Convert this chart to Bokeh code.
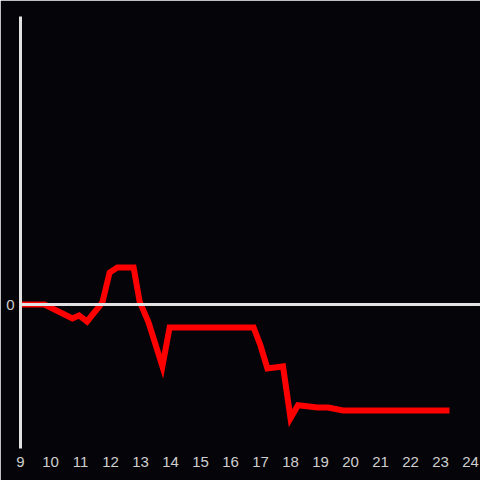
from bokeh.plotting import figure
from bokeh.models import Range1d, FixedTicker, Span, LinearAxis
from bokeh.embed import file_html
from bokeh.resources import INLINE

# Data (hour of day, relative value)
hours = [9.0, 9.8, 10.73, 10.95, 11.22, 11.73, 11.97, 12.23, 12.77, 12.97,
         13.27, 13.73, 13.97, 16.77, 17.0, 17.23, 17.75, 18.0, 18.25, 18.9,
         19.25, 19.75, 23.3]
values = [0.0, 0.0, -0.097, -0.076, -0.118, 0.014, 0.222, 0.257, 0.257, 0.021,
          -0.125, -0.43, -0.16, -0.16, -0.285, -0.444, -0.43, -0.79, -0.70,
          -0.715, -0.715, -0.736, -0.736]
x_ticks = list(range(9, 25))
y_ticks = [0]

BG = "#050408"
AXIS = "#e2e2e2"
LABEL = "#cfcfcf"

p = figure(width=480, height=480, output_backend="svg", toolbar_location=None,
           x_range=Range1d(9, 24.333), y_range=Range1d(-1, 2),
           background_fill_color=BG, border_fill_color=BG,
           min_border_left=20, min_border_right=0, min_border_top=16,
           min_border_bottom=32, x_axis_location=None, y_axis_location=None)
p.outline_line_color = BG
p.outline_line_width = 2
p.grid.visible = False

zero = Span(location=0, dimension="width", line_color=AXIS, line_width=3)
p.add_layout(zero)

p.line(hours, values, line_color="#ff0000", line_width=6, line_join="miter")

xa = LinearAxis(ticker=FixedTicker(ticks=x_ticks))
xa.axis_line_color = None
xa.major_tick_line_color = None
xa.minor_tick_line_color = None
xa.major_label_text_color = LABEL
xa.major_label_text_font = "Liberation Sans"
xa.major_label_text_font_size = "15px"
xa.major_label_standoff = 2
p.add_layout(xa, "below")

ya = LinearAxis(ticker=FixedTicker(ticks=y_ticks))
ya.axis_line_color = AXIS
ya.axis_line_width = 3
ya.major_tick_line_color = None
ya.minor_tick_line_color = None
ya.major_label_text_color = LABEL
ya.major_label_text_font = "Liberation Sans"
ya.major_label_text_font_size = "15px"
ya.major_label_standoff = 0
p.add_layout(ya, "left")

open("out.html", "w").write(file_html(p, INLINE))
